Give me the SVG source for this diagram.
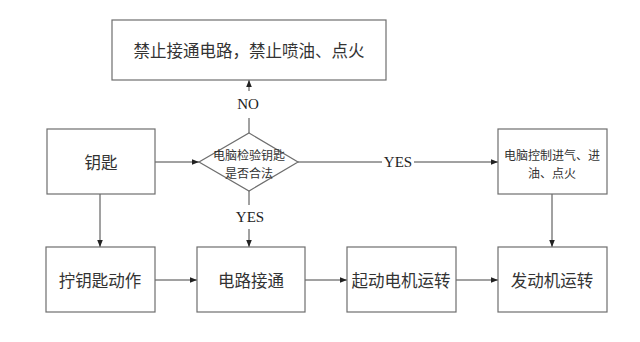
<svg xmlns="http://www.w3.org/2000/svg" width="640" height="342" viewBox="0 0 640 342">
<style>
.box{fill:#fff;stroke:#6e6e6e;stroke-width:1.2}
.t{font-family:"Noto Sans CJK SC","Noto Sans CJK TC",sans-serif;fill:#333;text-anchor:middle;dominant-baseline:central}
.big{font-size:16.5px}
.sm{font-size:12px}
.lbl{font-family:"Liberation Serif","DejaVu Serif",serif;font-size:15px;fill:#222;text-anchor:middle;dominant-baseline:central}
.c{stroke:#444;stroke-width:1;fill:none}
</style>
<defs>
<marker id="ah" viewBox="0 0 10 10" refX="10" refY="5" markerWidth="7" markerHeight="7" orient="auto" markerUnits="userSpaceOnUse">
<path d="M0,1 L10,5 L0,9 Z" fill="#222"/>
</marker>
</defs>
<rect width="640" height="342" fill="#fff"/>
<g id="connectors">
<line class="c" x1="249" y1="133" x2="249" y2="118"/>
<line class="c" x1="249" y1="91" x2="249" y2="80" marker-end="url(#ah)"/>
<line class="c" x1="155" y1="162" x2="199" y2="162" marker-end="url(#ah)"/>
<line class="c" x1="298" y1="162" x2="382" y2="162"/>
<line class="c" x1="414" y1="162" x2="498" y2="162" marker-end="url(#ah)"/>
<line class="c" x1="249" y1="191" x2="249" y2="205"/>
<line class="c" x1="249" y1="229" x2="249" y2="247" marker-end="url(#ah)"/>
<line class="c" x1="100" y1="194" x2="100" y2="247" marker-end="url(#ah)"/>
<line class="c" x1="552" y1="194" x2="552" y2="247" marker-end="url(#ah)"/>
<line class="c" x1="155" y1="280" x2="197" y2="280" marker-end="url(#ah)"/>
<line class="c" x1="305" y1="280" x2="347" y2="280" marker-end="url(#ah)"/>
<line class="c" x1="456" y1="280" x2="498" y2="280" marker-end="url(#ah)"/>
<text class="lbl" x="248" y="104">NO</text>
<text class="lbl" x="398" y="162">YES</text>
<text class="lbl" x="250" y="217">YES</text>
</g>
<g id="forbid">
<rect class="box" x="112" y="20" width="274" height="60"/>
<text class="t big" x="249" y="50">禁止接通电路，禁止喷油、点火</text>
</g>
<g id="key">
<rect class="box" x="47" y="129" width="108" height="65"/>
<text class="t big" x="101" y="162">钥匙</text>
</g>
<g id="check">
<polygon class="box" points="249,133 298,162 249,191 199,162"/>
<text class="t sm" x="249" y="154">电脑检验钥匙<tspan x="249" dy="18">是否合法</tspan></text>
</g>
<g id="ecu">
<rect class="box" x="498" y="129" width="109" height="65"/>
<text class="t sm" x="552" y="154">电脑控制进气、进<tspan x="552" dy="18">油、点火</tspan></text>
</g>
<g id="turn">
<rect class="box" x="46" y="247" width="109" height="65"/>
<text class="t big" x="100" y="280">拧钥匙动作</text>
</g>
<g id="circuit">
<rect class="box" x="197" y="247" width="108" height="65"/>
<text class="t big" x="251" y="280">电路接通</text>
</g>
<g id="starter">
<rect class="box" x="347" y="247" width="109" height="65"/>
<text class="t big" x="401" y="280">起动电机运转</text>
</g>
<g id="engine">
<rect class="box" x="498" y="247" width="109" height="65"/>
<text class="t big" x="552" y="280">发动机运转</text>
</g>
</svg>
